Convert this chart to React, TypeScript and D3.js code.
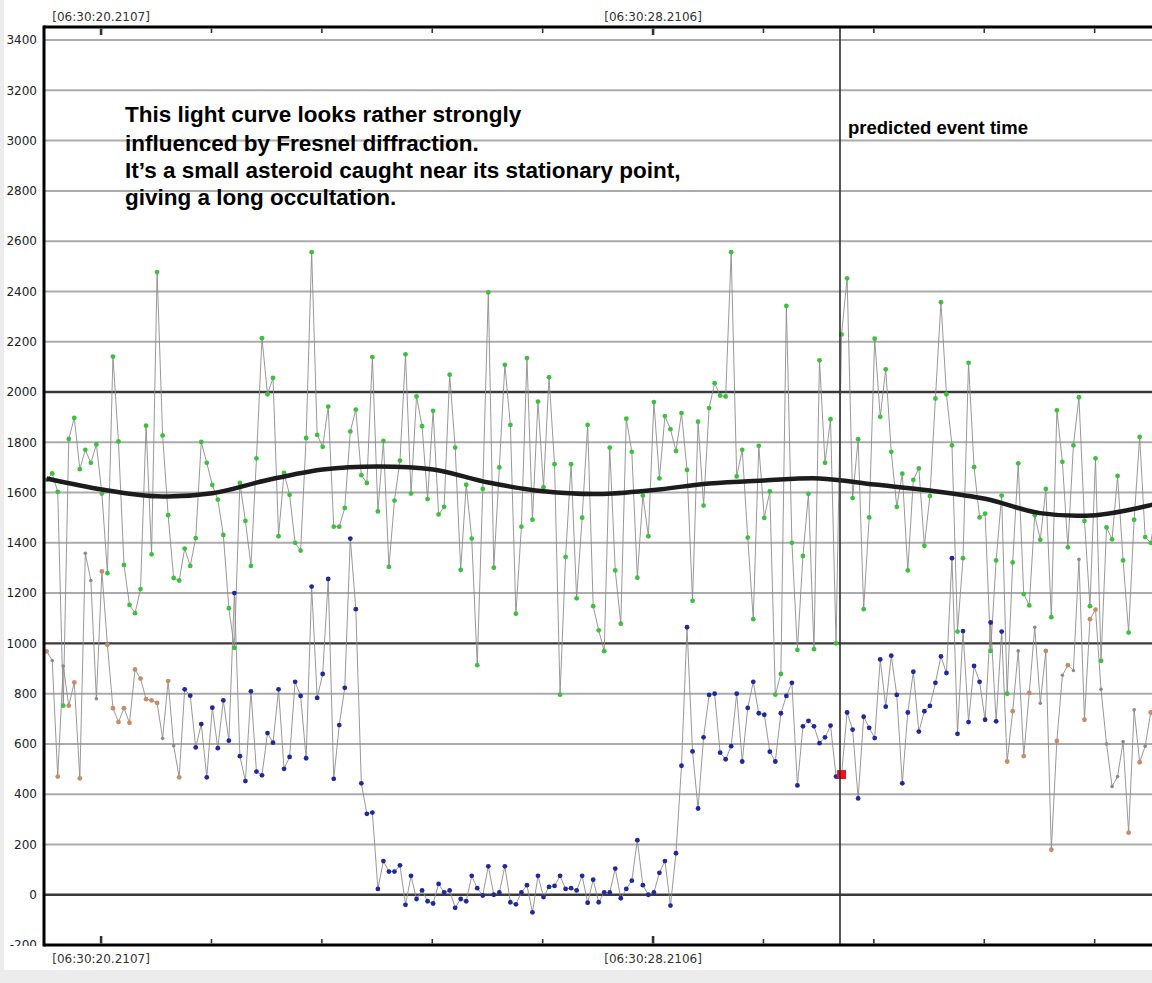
import { useEffect, useRef } from "react";
import * as d3 from "d3";

const WIDTH = 1152;
const HEIGHT = 983;

// one value per video frame, 0.08 s apart
const FRAME0 = 19.4227; // seconds after 06:30:00 of frame 0
const FRAME_STEP = 0.08;

// comparison star (green points)
const comparisonFlux = [
  1650, 1676, 1603, 752, 1813, 1897, 1693, 1770, 1718, 1791,
  1596, 1279, 2141, 1803, 1312, 1153, 1120, 1216, 1866, 1354,
  2477, 1827, 1510, 1260, 1250, 1377, 1308, 1419, 1801, 1718,
  1630, 1572, 1431, 1140, 982, 1638, 1487, 1308, 1736, 2214,
  1991, 2056, 1426, 1678, 1591, 1400, 1369, 1817, 2556, 1829,
  1782, 1942, 1464, 1464, 1539, 1843, 1930, 1669, 1638, 2139,
  1525, 1805, 1304, 1568, 1727, 2150, 1596, 1982, 1864, 1574,
  1925, 1513, 1543, 2069, 1779, 1292, 1631, 1417, 913, 1614,
  2396, 1301, 1700, 2108, 1869, 1118, 1464, 2135, 1492, 1962,
  1621, 2059, 1713, 796, 1344, 1713, 1179, 1500, 1869, 1148,
  1052, 969, 1779, 1290, 1078, 1894, 1762, 1261, 1588, 1426,
  1960, 1656, 1904, 1852, 1765, 1916, 1690, 1169, 1882, 1548,
  1936, 2035, 1986, 1982, 2556, 1664, 1770, 1421, 1096, 1786,
  1499, 1605, 796, 878, 2342, 1400, 974, 1348, 1595, 977,
  2126, 1718, 1892, 1000, 2229, 2452, 1578, 1812, 1136, 1501,
  2212, 1901, 2090, 1762, 1543, 1675, 1290, 1650, 1696, 1388,
  1586, 1974, 2357, 1991, 1788, 1047, 1339, 2116, 1701, 1501,
  1516, 970, 1330, 1588, 800, 1322, 1716, 1196, 1151, 1510,
  1412, 1614, 1104, 1927, 1722, 1382, 1788, 1979, 1487, 1148,
  1736, 930, 1461, 1414, 1666, 1330, 1043, 1492, 1821, 1423,
  1400, 1520,
];

// target star (blue / brown points)
const targetFlux = [
  968, 932, 470, 910, 752, 845, 463, 1358, 1250, 780,
  1286, 994, 742, 687, 742, 684, 896, 860, 778, 773,
  763, 622, 850, 593, 467, 817, 792, 586, 679, 467,
  744, 583, 773, 613, 1200, 551, 452, 809, 490, 475,
  643, 605, 817, 501, 548, 847, 791, 543, 1226, 783,
  878, 1256, 461, 675, 823, 1417, 1136, 443, 322, 327,
  23, 134, 92, 92, 117, -40, 75, -17, 17, -26,
  -35, 43, 9, 17, -52, -17, -26, 75, 26, -3,
  113, 0, 9, 113, -30, -38, 9, 38, -70, 75,
  -9, 31, 35, 75, 23, 26, 17, 75, -32, 60,
  -30, 9, 9, 104, -14, 23, 56, 217, 38, 0,
  9, 87, 134, -43, 165, 513, 1064, 570, 343, 626,
  795, 800, 565, 539, 591, 800, 530, 743, 847, 722,
  716, 569, 530, 722, 791, 843, 435, 670, 692, 670,
  603, 626, 673, 470, 478, 725, 657, 383, 708, 664,
  623, 936, 748, 951, 795, 443, 725, 887, 649, 730,
  751, 843, 948, 882, 1339, 640, 1049, 687, 910, 847,
  696, 1083, 690, 1047, 530, 730, 970, 551, 803, 1064,
  762, 970, 179, 612, 873, 913, 892, 1334, 696, 1096,
  1134, 817, 600, 431, 470, 609, 247, 736, 527, 591,
  725, 760,
];

// frames of the target drawn in blue (the rest are brown)
const blueFirst = 25;
const blueLast = 173;
// frames of the target drawn as small grey marks
const greyFrames = [1, 3, 7, 8, 9, 21, 23, 176, 179, 180, 184, 186, 187, 191, 192, 193, 194, 195, 197, 199];
const eventFrame = 144;
const eventTime = 30.9197;

// smoothed comparison curve (black)
const trendFrames = [0, 10, 20, 30, 40, 50, 60, 70, 80, 90, 100, 110, 120, 130, 140, 150, 160, 170, 180, 190, 200, 201];
const trendFlux = [1656, 1612, 1585, 1597, 1650, 1692, 1704, 1692, 1640, 1605, 1594, 1610, 1636, 1648, 1656, 1632, 1608, 1575, 1518, 1510, 1550, 1556];

const yTicks = [3400, 3200, 3000, 2800, 2600, 2400, 2200, 2000, 1800, 1600, 1400, 1200, 1000, 800, 600, 400, 200, 0, -200];
const darkLevels = [0, 1000, 2000];

const majorTickTimes = [20.2107, 28.2106];
const majorTickLabels = ["[06:30:20.2107]", "[06:30:28.2106]"];
const minorTickTimes = [21.8107, 23.4107, 25.0107, 26.6107, 29.8106, 31.4106, 33.0106, 34.6106];

const noteLines = [
  "This light curve looks rather strongly",
  "influenced by Fresnel diffraction.",
  "It\u2019s a small asteroid caught near its stationary point,",
  "giving a long occultation.",
];
const eventLabel = "predicted event time";

export default function App() {
  const svgRef = useRef<SVGSVGElement | null>(null);

  useEffect(() => {
    if (!svgRef.current) return;
    const svg = d3.select(svgRef.current);
    svg.selectAll("*").remove();

    const left = 44;
    const top = 27;
    const bottom = 945;

    const x = d3.scaleLinear().domain([FRAME0, FRAME0 + 16]).range([46.7, 1150.7]);
    const y = d3.scaleLinear().domain([-200, 3448]).range([945, 28]);
    const fx = (i: number) => x(FRAME0 + i * FRAME_STEP);

    // background
    svg.append("rect").attr("width", WIDTH).attr("height", HEIGHT).attr("fill", "#ececec");
    svg.append("rect").attr("x", 4).attr("y", 0).attr("width", WIDTH - 4).attr("height", 970).attr("fill", "#fff");

    const defs = svg.append("defs");
    defs.append("clipPath").attr("id", "plot")
      .append("rect").attr("x", left).attr("y", top).attr("width", WIDTH - left).attr("height", bottom - top);
    defs.append("clipPath").attr("id", "ylab")
      .append("rect").attr("x", 0).attr("y", 0).attr("width", left).attr("height", 946);

    // grid
    const grid = svg.append("g");
    grid.selectAll("line")
      .data(yTicks.filter((v) => v > -200))
      .enter()
      .append("line")
      .attr("x1", left)
      .attr("x2", WIDTH)
      .attr("y1", (d) => y(d))
      .attr("y2", (d) => y(d))
      .attr("stroke", (d) => (darkLevels.includes(d) ? "#3a3a3a" : "#ababab"))
      .attr("stroke-width", (d) => (darkLevels.includes(d) ? 2.4 : 2));

    const plot = svg.append("g").attr("clip-path", "url(#plot)");

    const line = d3.line<number>().x((_, i) => fx(i)).y((d) => y(d));

    plot.append("path").attr("d", line(comparisonFlux)).attr("fill", "none")
      .attr("stroke", "#8c8c8c").attr("stroke-width", 0.9);
    plot.append("path").attr("d", line(targetFlux)).attr("fill", "none")
      .attr("stroke", "#8c8c8c").attr("stroke-width", 0.9);

    plot.selectAll("circle.comp")
      .data(comparisonFlux)
      .enter()
      .append("circle")
      .attr("class", "comp")
      .attr("cx", (_, i) => fx(i))
      .attr("cy", (d) => y(d))
      .attr("r", 2.4)
      .attr("fill", "#3fbf3f");

    plot.selectAll("circle.target")
      .data(targetFlux)
      .enter()
      .append("circle")
      .attr("class", "target")
      .attr("cx", (_, i) => fx(i))
      .attr("cy", (d) => y(d))
      .attr("r", (_, i) => (greyFrames.includes(i) ? 1.8 : 2.4))
      .attr("fill", (_, i) =>
        greyFrames.includes(i) ? "#8a8a8a" : i >= blueFirst && i <= blueLast ? "#1e2a9c" : "#c98c68"
      );

    // smoothed comparison
    const trend = d3.line<number>()
      .x((_, i) => fx(trendFrames[i]))
      .y((d) => y(d))
      .curve(d3.curveCatmullRom);
    plot.append("path").attr("d", trend(trendFlux)).attr("fill", "none")
      .attr("stroke", "#1c1c1c").attr("stroke-width", 4.5);

    // predicted event time
    svg.append("line")
      .attr("x1", x(eventTime)).attr("x2", x(eventTime))
      .attr("y1", top).attr("y2", bottom)
      .attr("stroke", "#2e2e2e").attr("stroke-width", 1.6);
    plot.append("rect")
      .attr("x", fx(eventFrame) - 4.5)
      .attr("y", y(targetFlux[eventFrame]) - 4.5)
      .attr("width", 9)
      .attr("height", 9)
      .attr("fill", "#e8141e");

    // frame
    const frame = svg.append("g").attr("stroke", "#000").attr("stroke-width", 3);
    frame.append("line").attr("x1", left).attr("x2", left).attr("y1", top - 1.5).attr("y2", bottom + 1.5);
    frame.append("line").attr("x1", left).attr("x2", WIDTH).attr("y1", top).attr("y2", top);
    frame.append("line").attr("x1", left).attr("x2", WIDTH).attr("y1", bottom).attr("y2", bottom);

    // time ticks
    const ticks = svg.append("g").attr("stroke", "#333");
    minorTickTimes.forEach((t) => {
      ticks.append("line").attr("x1", x(t)).attr("x2", x(t)).attr("y1", top + 1.5).attr("y2", top + 6).attr("stroke-width", 1.6);
      ticks.append("line").attr("x1", x(t)).attr("x2", x(t)).attr("y1", bottom - 1.5).attr("y2", bottom - 6).attr("stroke-width", 1.6);
    });
    majorTickTimes.forEach((t) => {
      ticks.append("line").attr("x1", x(t)).attr("x2", x(t)).attr("y1", top + 1.5).attr("y2", top + 8).attr("stroke-width", 2.6);
      ticks.append("line").attr("x1", x(t)).attr("x2", x(t)).attr("y1", bottom - 1.5).attr("y2", bottom - 9).attr("stroke-width", 2.6);
    });

    const labelFont = "'DejaVu Sans', Tahoma, sans-serif";
    [21, 963].forEach((by) => {
      svg.append("g").selectAll("text")
        .data(majorTickTimes)
        .enter()
        .append("text")
        .attr("x", (d) => x(d))
        .attr("y", by)
        .attr("text-anchor", "middle")
        .attr("font-family", labelFont)
        .attr("font-size", 12)
        .attr("fill", "#333")
        .text((_, i) => majorTickLabels[i]);
    });

    svg.append("g").attr("clip-path", "url(#ylab)")
      .selectAll("text")
      .data(yTicks)
      .enter()
      .append("text")
      .attr("x", 37)
      .attr("y", (d) => y(d))
      .attr("dy", "0.36em")
      .attr("text-anchor", "end")
      .attr("font-family", labelFont)
      .attr("font-size", 12)
      .attr("fill", "#222")
      .text((d) => String(d));

    // annotations
    const noteY = [122, 151, 178, 205];
    svg.append("g").selectAll("text")
      .data(noteLines)
      .enter()
      .append("text")
      .attr("x", 125)
      .attr("y", (_, i) => noteY[i])
      .attr("font-family", "'Liberation Sans', Arial, sans-serif")
      .attr("font-weight", "bold")
      .attr("font-size", 22.5)
      .attr("fill", "#000")
      .text((d) => d);

    svg.append("text")
      .attr("x", 848)
      .attr("y", 134)
      .attr("font-family", "'Liberation Sans', Arial, sans-serif")
      .attr("font-weight", "bold")
      .attr("font-size", 18.5)
      .attr("fill", "#000")
      .text(eventLabel);
  }, []);

  return (
    <svg
      ref={svgRef}
      width={WIDTH}
      height={HEIGHT}
      style={{ position: "absolute", left: 0, top: 0, display: "block" }}
    ></svg>
  );
}
